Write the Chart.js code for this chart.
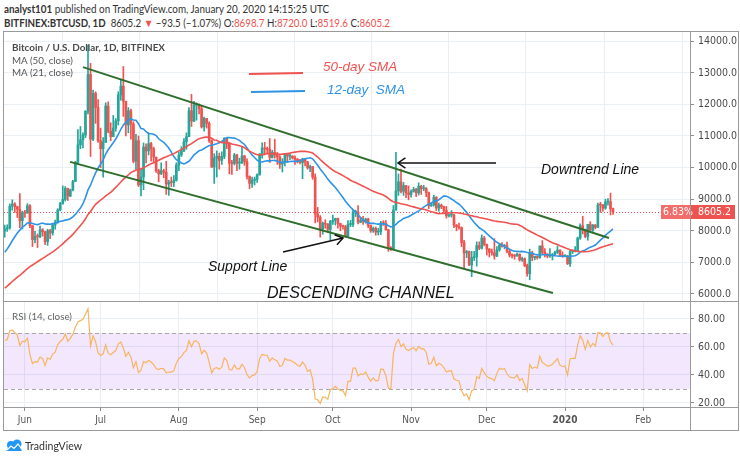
<!DOCTYPE html>
<html lang="en">
<head>
<meta charset="UTF-8">
<title>BTCUSD 1D – Descending Channel</title>
<script src="https://cdn.jsdelivr.net/npm/chart.js@4"></script>
<style>
  body { margin: 0; background: #fff; }
  #wrap {
    position: relative; width: 740px; height: 458px; overflow: hidden; background: #fff;
    font-family: Lato, "Open Sans", sans-serif; color: #333;
  }
  #wrap canvas { position: absolute; left: 0; top: 0; }
  .t { position: absolute; white-space: nowrap; line-height: 1; transform-origin: left top; }
  .red { color: #ef5350; }
  .ln { position: absolute; background: #9a9a9a; }
</style>
</head>
<body>
<div id="wrap">
  <div class="t" data-w="325" style="left:4px;top:3px;font-size:11px;"><b>analyst101</b> published on TradingView.com, January 20, 2020 14:15:25 UTC</div>
  <div class="t" data-w="386" style="left:4px;top:17px;font-size:11px;"><b>BITFINEX:BTCUSD, 1D</b>&nbsp; 8605.2 <span class="red">▼</span> −93.5 (−1.07%) O:<span class="red">8698.7</span> H:<span class="red">8720.0</span> L:<span class="red">8519.6</span> C:<span class="red">8605.2</span></div>

  <canvas id="priceChart" width="740" height="458"></canvas>
  <canvas id="rsiChart" width="740" height="458"></canvas>

  <div class="ln" style="left:3px;top:31px;width:736px;height:1px;"></div>
  <div class="ln" style="left:3px;top:430px;width:736px;height:1px;"></div>
  <div class="ln" style="left:3px;top:31px;width:1px;height:400px;"></div>
  <div class="ln" style="left:738px;top:31px;width:1px;height:400px;"></div>
  <div class="ln" style="left:690px;top:31px;width:1px;height:400px;"></div>
  <div class="ln" style="left:3px;top:301px;width:736px;height:1px;"></div>
  <div class="ln" style="left:3px;top:407px;width:736px;height:1px;"></div>

  <div class="t" data-w="153" style="left:12px;top:42px;font-size:10px;font-weight:bold;color:#4a4a4a;">Bitcoin / U.S. Dollar, 1D, BITFINEX</div>
  <div class="t" data-w="61" style="left:12px;top:55px;font-size:10px;color:#555;">MA (50, close)</div>
  <div class="t" data-w="61" style="left:12px;top:67px;font-size:10px;color:#555;">MA (21, close)</div>
  <div class="t" data-w="60" style="left:12px;top:311px;font-size:10px;color:#666;">RSI (14, close)</div>

  <svg style="position:absolute;left:5px;top:439px" width="18" height="13" viewBox="0 0 18 13">
    <path d="M1 12 L6 5 L9 8 L12 3 L17 12 Z" fill="#2196f3"/>
    <circle cx="6" cy="6" r="4" fill="#2196f3"/>
    <circle cx="12" cy="5" r="4.5" fill="#2196f3"/>
    <path d="M2 11 L6 7 L9 9.5 L13 5 L16 9" stroke="#fff" stroke-width="1.2" fill="none"/>
  </svg>
  <div class="t" data-w="57" style="left:25px;top:440px;font-size:11.5px;color:#333;">TradingView</div>
</div>

<script>
// Daily BITFINEX:BTCUSD, 24 May 2019 – 20 Jan 2020 (index 0 = 24 May 2019)
// Closes from 1 Apr to 23 May 2019: only used to seed the MA and RSI values
const warmupCloses = [
  4150, 4910, 5000, 4930, 5060, 5090, 5230, 5310, 5220, 5360, 5070, 5110, 5100, 5180, 5060,
  5240, 5270, 5310, 5310, 5350, 5320, 5420, 5560, 5470, 5350, 5550, 5550, 5550, 5500, 5600,
  5650, 5750, 6050, 6100, 6050, 6000, 6100, 6200, 6400, 6600, 7400, 7150, 8000, 8200, 8400,
  8050, 7500, 7400, 8300, 8100, 8050, 7750, 7990
];

const closes = [
  8060, 8100, 8780, 8850, 8760, 8680, 8320, 8580,
  8560, 8790, 8160, 7720, 7820, 7810, 8030, 7970, 7660, 8000, 7930, 8180, 8270, 8660, 8860,
  8990, 9340, 9100, 9290, 9560, 10170, 10720, 10880, 11030, 11780, 12950, 10900, 12350, 11900, 10850,
  10600, 10800, 11950, 11150, 10980, 11250, 11480, 12300, 12580, 12100, 11350, 11800, 11380, 10200, 10850,
  9450, 9700, 10650, 10530, 10760, 10600, 10330, 9900, 9800, 9900, 9850, 9480, 9530, 9520, 9600, 10080,
  10400, 10530, 10820, 10980, 11800, 11470, 11980, 11980, 11860, 11290, 11560, 11400, 10850, 10020, 10300,
  10360, 10230, 10350, 10920, 10760, 10140, 10130, 10400, 10140, 10140, 10370, 10190, 9720, 9500, 9600, 9630,
  9770, 10390, 10620, 10590, 10580, 10320, 10480, 10400, 10340, 10110, 10160, 10420, 10360, 10360, 10310,
  10260, 10190, 10160, 10270, 10180, 9990, 10030, 9700, 8530, 8430, 8060, 8240, 8210, 8040, 8300,
  8330, 8390, 8230, 8150, 8130, 7850, 8200, 8200, 8590, 8590, 8270, 8330, 8300, 8370, 8170,
  8000, 8080, 7960, 7970, 8240, 8230, 8030, 7470, 7430, 8660, 9260, 9550, 9250, 9430, 9200, 9150,
  9250, 9310, 9200, 9410, 9330, 9340, 9210, 8790, 8820, 9060, 8720, 8810, 8760, 8640, 8470,
  8500, 8500, 8180, 8130, 8100, 7630, 7300, 7340, 6920, 7150, 7180, 7530, 7450, 7770, 7570,
  7420, 7320, 7300, 7200, 7400, 7550, 7510, 7530, 7350, 7230, 7210, 7200, 7260, 7080, 7120,
  6900, 6640, 7290, 7150, 7190, 7150, 7520, 7320, 7260, 7200, 7210, 7250, 7320, 7390, 7220, 7190,
  7200, 6960, 7350, 7360, 7360, 7770, 8160, 8050, 7820, 8200, 8020, 8180, 8110, 8820, 8810,
  8720, 8910, 8920, 8698.7, 8605.2
];

const highs = [
  8180, 8190, 8850, 8980, 8890, 8780, 9180, 8620,
  8650, 8860, 8830, 8170, 7980, 7900, 8150, 8070, 7980, 8050, 8050, 8220, 8340, 8700, 8900,
  9420, 9400, 9350, 9320, 9600, 10200, 11200, 11300, 11100, 11800, 13880, 13300, 12450, 12400, 12150,
  11250, 10950, 12050, 12080, 11420, 11650, 11550, 12400, 12800, 13200, 12100, 11900, 11850, 11450, 11050,
  11000, 9980, 10780, 10750, 11100, 10800, 10650, 10330, 9950, 10150, 9950, 10200, 9600, 9700, 9750, 10150,
  10500, 10660, 10920, 11100, 11900, 12320, 12100, 12050, 12020, 11950, 11600, 11560, 11450, 10880, 10440,
  10530, 10460, 10500, 10950, 10950, 10780, 10230, 10450, 10420, 10300, 10650, 10390, 10280, 9740, 9700, 9700,
  9800, 10450, 10780, 10800, 10650, 10920, 10550, 10900, 10480, 10380, 10280, 10450, 10450, 10420, 10380,
  10370, 10290, 10260, 10300, 10280, 10200, 10080, 10040, 9800, 8740, 8480, 8280, 8350, 8230, 8330,
  8500, 8400, 8400, 8240, 8180, 8170, 8320, 8330, 8650, 8650, 8800, 8420, 8460, 8400, 8400,
  8180, 8120, 8120, 8080, 8300, 8320, 8320, 8050, 7500, 8800, 10480, 9800, 9950, 9530, 9440, 9420,
  9300, 9380, 9340, 9520, 9440, 9440, 9370, 9230, 8880, 9130, 9080, 8880, 8850, 8780, 8770,
  8530, 8640, 8520, 8200, 8240, 8120, 7700, 7380, 7360, 7350, 7350, 7650, 7650, 7870, 7820,
  7580, 7440, 7420, 7750, 7500, 7600, 7630, 7570, 7640, 7400, 7270, 7260, 7300, 7270, 7170,
  7140, 6950, 7420, 7350, 7200, 7200, 7520, 7690, 7440, 7280, 7440, 7280, 7360, 7520, 7400, 7330,
  7250, 7220, 7400, 7390, 7500, 7800, 8220, 8460, 8050, 8200, 8290, 8200, 8200, 8880, 8900,
  8840, 9000, 9020, 9190, 8720
];

const lows = [
  7800, 7980, 8050, 8650, 8580, 8420, 8100, 8060,
  8420, 8560, 8100, 7500, 7620, 7470, 7780, 7830, 7560, 7540, 7750, 7860, 8050, 8240, 8630,
  8840, 8940, 8960, 9080, 9260, 9560, 10100, 10600, 10620, 10950, 11700, 10350, 10850, 11400, 10800,
  10000, 9700, 10800, 11100, 10850, 10980, 11150, 11350, 12130, 11620, 11000, 11100, 10900, 10150, 9950,
  9400, 9100, 9300, 10150, 10400, 10200, 10150, 9850, 9550, 9780, 9680, 9150, 9120, 9400, 9400, 9570,
  9900, 10350, 10500, 10580, 10980, 11300, 11450, 11500, 11700, 11250, 11150, 11250, 10800, 10000, 9500,
  9700, 9950, 10100, 10280, 10600, 9800, 9780, 10080, 9900, 9950, 10130, 10070, 9630, 9330, 9370, 9450,
  9530, 9760, 10300, 10400, 10460, 10160, 10300, 10300, 10100, 9970, 9860, 10050, 10170, 10250, 10270,
  10100, 10150, 10120, 9650, 10050, 9950, 9870, 9630, 8250, 8280, 7800, 7890, 8080, 7940, 7710,
  8200, 8180, 8080, 8000, 8050, 7800, 7780, 8130, 8130, 8450, 8220, 8260, 8200, 8240, 8100,
  7950, 7950, 7860, 7870, 7880, 8170, 8020, 7350, 7380, 7420, 8650, 9120, 9200, 9120, 9050, 8980,
  9060, 9220, 9080, 9130, 9150, 9270, 9080, 8700, 8770, 8780, 8640, 8620, 8700, 8580, 8400,
  8440, 8430, 8100, 8000, 8050, 7500, 6800, 7150, 6900, 6550, 7060, 6880, 7400, 7420, 7520,
  7230, 7170, 7230, 7100, 7180, 7350, 7480, 7430, 7300, 7170, 7140, 7100, 7200, 7040, 7030,
  6860, 6560, 6450, 7050, 7080, 7100, 7130, 7270, 7170, 7140, 7160, 7080, 7230, 7280, 7200, 7160,
  7170, 6930, 6870, 7280, 7330, 7350, 7730, 7900, 7780, 7700, 8010, 7980, 8060, 8100, 8580,
  8620, 8680, 8810, 8500, 8519.6
];

// channel lines drawn by the analyst: [day index, price]
const upperChannel = [[31.0, 13180], [239.4, 7770]];
const lowerChannel = [[25.9, 10180], [217.2, 6030]];

const priceTicks = [6000, 7000, 8000, 9000, 10000, 11000, 12000, 13000, 14000];
const rsiTicks = [20, 40, 60, 80];
const monthTicks = [8, 38, 69, 100, 130, 161, 191, 222, 253];
const monthLabels = ['Jun', 'Jul', 'Aug', 'Sep', 'Oct', 'Nov', 'Dec', '2020', 'Feb'];

const UP = '#26a69a', DOWN = '#ef5350';
const GRID = '#e9eff3';
const X_MIN = -0.28, X_MAX = 271.5;
const AXIS_FONT = '"Liberation Sans Narrow", "DejaVu Sans Condensed", Lato, sans-serif';

Chart.defaults.font.family = AXIS_FONT;

// squeeze the HTML labels to the widths they have in the screenshot
document.querySelectorAll('[data-w]').forEach(el => {
  const w = el.getBoundingClientRect().width;
  el.style.transform = 'scaleX(' + (el.dataset.w / w) + ')';
});

// ---- derived series ----
const allCloses = warmupCloses.concat(closes);
const off = warmupCloses.length;
const opens = closes.map((c, i) => allCloses[off + i - 1]);

function sma(values, n) {
  return values.map((v, i) => {
    if (i < n - 1) return null;
    let s = 0;
    for (let k = i - n + 1; k <= i; k++) s += values[k];
    return s / n;
  });
}

function rsi(values, n) {
  const out = values.map(() => null);
  let gain = 0, loss = 0;
  for (let i = 1; i <= n; i++) {
    const ch = values[i] - values[i - 1];
    if (ch > 0) gain += ch; else loss -= ch;
  }
  gain /= n; loss /= n;
  out[n] = 100 - 100 / (1 + gain / loss);
  for (let i = n + 1; i < values.length; i++) {
    const ch = values[i] - values[i - 1];
    gain = (gain * (n - 1) + Math.max(ch, 0)) / n;
    loss = (loss * (n - 1) + Math.max(-ch, 0)) / n;
    out[i] = loss === 0 ? 100 : 100 - 100 / (1 + gain / loss);
  }
  return out;
}

const ma50 = sma(allCloses, 50).slice(off).map((y, i) => ({x: i, y}));
const ma21 = sma(allCloses, 21).slice(off).map((y, i) => ({x: i, y}));
const rsiPts = rsi(allCloses, 14).slice(off).map((y, i) => ({x: i, y}));

const colors = closes.map((c, i) => c >= opens[i] ? UP : DOWN);
const bodies = closes.map((c, i) => ({x: i, y: [opens[i], c]}));
const wicks = closes.map((c, i) => ({x: i, y: [lows[i], highs[i]]}));
const lastClose = closes[closes.length - 1];

function monthTickBuilder(scale) {
  scale.ticks = monthTicks.map(v => ({value: v}));
}

// ---- drawings on the price pane ----
function arrowHead(ctx, x, y, ang) {
  const L = 9, A = 0.6;
  ctx.beginPath();
  ctx.moveTo(x - L * Math.cos(ang - A), y - L * Math.sin(ang - A));
  ctx.lineTo(x, y);
  ctx.lineTo(x - L * Math.cos(ang + A), y - L * Math.sin(ang + A));
  ctx.stroke();
}

const pricePanePlugin = {
  id: 'pricePane',
  beforeDatasetsDraw(chart) {
    const {ctx, chartArea, scales} = chart;
    const py = Math.round(scales.y.getPixelForValue(lastClose)) + 0.5;
    ctx.save();
    ctx.strokeStyle = '#ef5350';
    ctx.lineWidth = 1;
    ctx.setLineDash([1, 2]);
    ctx.beginPath();
    ctx.moveTo(chartArea.left, py);
    ctx.lineTo(chartArea.right, py);
    ctx.stroke();
    ctx.restore();
  },
  afterDatasetsDraw(chart) {
    const ctx = chart.ctx;
    ctx.save();
    // SMA key drawn by the analyst
    ctx.lineWidth = 2;
    ctx.strokeStyle = '#f0524f';
    ctx.beginPath(); ctx.moveTo(249, 74); ctx.lineTo(303, 73); ctx.stroke();
    ctx.strokeStyle = '#2f93e6';
    ctx.beginPath(); ctx.moveTo(251, 92); ctx.lineTo(305, 91); ctx.stroke();
    ctx.textBaseline = 'middle';
    ctx.font = 'italic 13.5px "Liberation Sans", Arial, sans-serif';
    ctx.fillStyle = '#f0524f';
    ctx.fillText('50-day SMA', 323, 67);
    ctx.fillStyle = '#2f93e6';
    ctx.fillText('12-day  SMA', 327, 90);

    ctx.fillStyle = '#111';
    ctx.font = 'italic 14px "Liberation Sans", Arial, sans-serif';
    ctx.fillText('Downtrend Line', 541, 170);
    ctx.fillText('Support Line', 208, 267);
    ctx.font = 'italic 16px "Liberation Sans", Arial, sans-serif';
    ctx.fillText('DESCENDING CHANNEL', 267, 294);

    // arrows
    ctx.strokeStyle = '#111';
    ctx.lineWidth = 1.5;
    ctx.beginPath(); ctx.moveTo(283, 252); ctx.lineTo(343, 238); ctx.stroke();
    arrowHead(ctx, 343, 238, Math.atan2(238 - 252, 343 - 283));
    ctx.beginPath(); ctx.moveTo(496, 163); ctx.lineTo(398, 163); ctx.stroke();
    arrowHead(ctx, 398, 163, Math.PI);
    ctx.restore();
  },
  afterDraw(chart) {
    const {ctx, scales} = chart;
    const py = Math.round(scales.y.getPixelForValue(lastClose));
    ctx.save();
    ctx.fillStyle = '#ef5350';
    ctx.fillRect(691, py - 7, 44, 14);
    ctx.fillStyle = '#f26c69';
    ctx.fillRect(661, py - 7, 29, 14);
    ctx.fillStyle = '#fff';
    ctx.font = '10.5px ' + AXIS_FONT;
    ctx.textBaseline = 'middle';
    ctx.fillText(lastClose.toFixed(1), 698, py + 0.5);
    ctx.fillText('6.83%', 663, py + 0.5);
    ctx.restore();
  }
};

new Chart(document.getElementById('priceChart'), {
  type: 'bar',
  data: {
    datasets: [
      { type: 'line', label: 'Upper channel', data: upperChannel.map(p => ({x: p[0], y: p[1]})),
        borderColor: '#2f6e2c', borderWidth: 2, pointRadius: 0, order: 0 },
      { type: 'line', label: 'Lower channel', data: lowerChannel.map(p => ({x: p[0], y: p[1]})),
        borderColor: '#2f6e2c', borderWidth: 2, pointRadius: 0, order: 0 },
      { type: 'line', label: 'MA (50, close)', data: ma50, borderColor: '#f0524f',
        borderWidth: 1.6, pointRadius: 0, order: 1 },
      { type: 'line', label: 'MA (21, close)', data: ma21, borderColor: '#2f93e6',
        borderWidth: 1.6, pointRadius: 0, order: 1 },
      { label: 'bodies', data: bodies, backgroundColor: colors, barThickness: 2,
        minBarLength: 1, grouped: false, order: 2 },
      { label: 'wicks', data: wicks, backgroundColor: colors, barThickness: 1,
        grouped: false, order: 3 }
    ]
  },
  options: {
    responsive: false,
    animation: false,
    events: [],
    layout: { padding: { left: 4, top: 32, right: 0, bottom: 157 } },
    plugins: { legend: { display: false }, tooltip: { enabled: false } },
    scales: {
      x: {
        type: 'linear', min: X_MIN, max: X_MAX, offset: false,
        afterBuildTicks: monthTickBuilder,
        afterFit: s => { s.height = 0; },
        ticks: { display: false },
        grid: { color: GRID, drawTicks: false },
        border: { display: false }
      },
      y: {
        position: 'right', min: 5778, max: 14291,
        afterBuildTicks: s => { s.ticks = priceTicks.map(v => ({value: v})); },
        afterFit: s => { s.width = 50; },
        ticks: { callback: v => v.toFixed(1), color: '#4a4a4a', font: { size: 10.5 }, padding: 4 },
        grid: { color: GRID, tickColor: '#8a8a8a', tickLength: 4 },
        border: { display: false }
      }
    }
  },
  plugins: [pricePanePlugin]
});

// ---- RSI pane ----
const rsiBandPlugin = {
  id: 'rsiBand',
  beforeDatasetsDraw(chart) {
    const {ctx, chartArea, scales} = chart;
    const y70 = scales.y.getPixelForValue(70), y30 = scales.y.getPixelForValue(30);
    ctx.save();
    ctx.fillStyle = 'rgba(150, 40, 240, 0.11)';
    ctx.fillRect(chartArea.left, y70, chartArea.right - chartArea.left, y30 - y70);
    ctx.strokeStyle = '#a8a8a8';
    ctx.lineWidth = 1;
    ctx.setLineDash([4, 3]);
    [y70, y30].forEach(y => {
      ctx.beginPath();
      ctx.moveTo(chartArea.left, Math.round(y) + 0.5);
      ctx.lineTo(chartArea.right, Math.round(y) + 0.5);
      ctx.stroke();
    });
    ctx.restore();
  }
};

new Chart(document.getElementById('rsiChart'), {
  type: 'line',
  data: {
    datasets: [{ label: 'RSI (14, close)', data: rsiPts, borderColor: '#f7b560',
      borderWidth: 1.2, pointRadius: 0 }]
  },
  options: {
    responsive: false,
    animation: false,
    events: [],
    layout: { padding: { left: 4, top: 302, right: 0, bottom: 29 } },
    plugins: { legend: { display: false }, tooltip: { enabled: false } },
    scales: {
      x: {
        type: 'linear', min: X_MIN, max: X_MAX, offset: false,
        afterBuildTicks: monthTickBuilder,
        afterFit: s => { s.height = 22; },
        ticks: {
          callback: (v, i) => monthLabels[i],
          autoSkip: false, maxRotation: 0, color: '#555', padding: 3,
          font: ctx => ({ size: 10, weight: monthLabels[ctx.index] === '2020' ? 'bold' : 'normal' })
        },
        grid: { color: GRID, tickColor: '#8a8a8a', tickLength: 4 },
        border: { display: false }
      },
      y: {
        position: 'right', min: 17.14, max: 92.14,
        afterBuildTicks: s => { s.ticks = rsiTicks.map(v => ({value: v})); },
        afterFit: s => { s.width = 50; },
        ticks: { callback: v => v.toFixed(2), color: '#4a4a4a', font: { size: 10.5 }, padding: 4 },
        grid: { color: GRID, tickColor: '#8a8a8a', tickLength: 4 },
        border: { display: false }
      }
    }
  },
  plugins: [rsiBandPlugin]
});
</script>
</body>
</html>
